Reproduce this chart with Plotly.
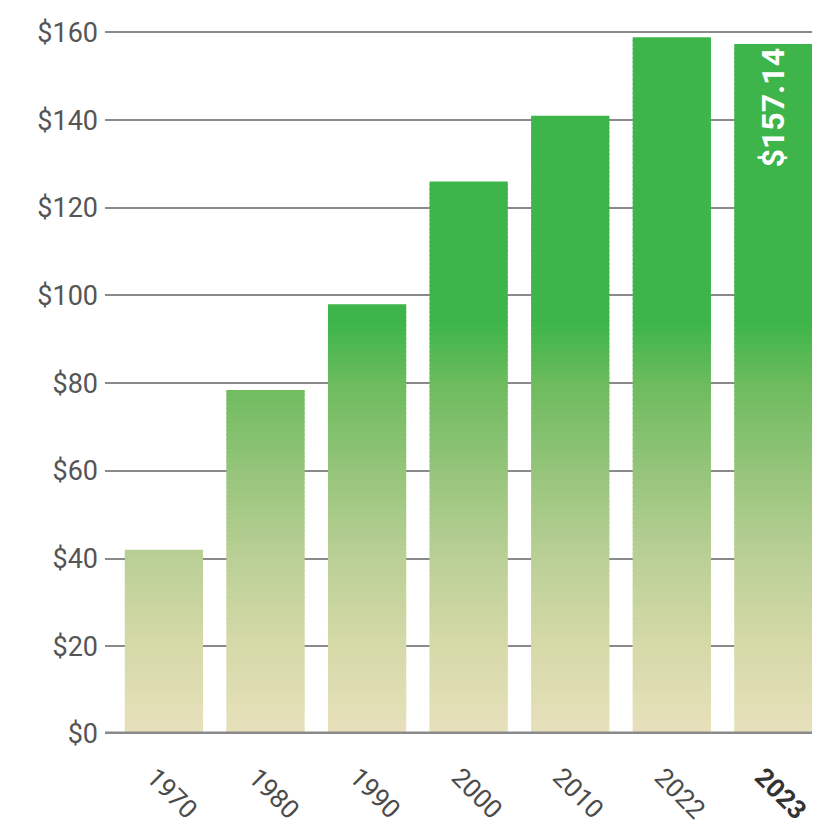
import plotly.graph_objects as go
import numpy as np

years = ["1970", "1980", "1990", "2000", "2010", "2022", "2023"]
tick_text = ["1970", "1980", "1990", "2000", "2010", "2022", "<b>2023</b>"]
values = [42.0, 78.3, 98.0, 126.0, 141.0, 158.9, 157.14]
label_text = ["", "", "", "", "", "", "$157.14"]
y_ticks = [0, 20, 40, 60, 80, 100, 120, 140, 160]
y_tick_text = ["$0", "$20", "$40", "$60", "$80", "$100", "$120", "$140", "$160"]

# gradient stops (value level -> rgb)
grad_levels = [0, 20, 40, 60, 80, 93, 200]
grad_colors = [(232, 225, 188), (214, 218, 169), (187, 208, 150), (150, 197, 123),
               (109, 188, 94), (63, 182, 75), (60, 181, 74)]

def color_at(v):
    r = np.interp(v, grad_levels, [c[0] for c in grad_colors])
    g = np.interp(v, grad_levels, [c[1] for c in grad_colors])
    b = np.interp(v, grad_levels, [c[2] for c in grad_colors])
    return f"rgb({int(r)},{int(g)},{int(b)})"

FONT = "Roboto, sans-serif"
step = 1.0
top = max(values)
levels = np.arange(0, top, step)
xpos = list(range(len(years)))

fig = go.Figure()
# gradient built from thin slices of each bar (ascending, slight overlap)
for lv in levels:
    bases, heights = [], []
    for v in values:
        if v > lv:
            hi = min(v, lv + step * 1.4)
            bases.append(lv)
            heights.append(hi - lv)
        else:
            bases.append(0)
            heights.append(None)
    fig.add_trace(go.Bar(
        x=xpos, y=heights, base=bases, width=0.77,
        marker=dict(color=color_at(lv + step / 2), line=dict(width=0)),
        hoverinfo="skip", showlegend=False,
    ))

fig.add_trace(go.Bar(
    x=xpos, y=values, width=0.77,
    marker=dict(color="rgba(0,0,0,0)", line=dict(width=0)),
    text=label_text, textposition="inside", insidetextanchor="end",
    textangle=-90, constraintext="none",
    textfont=dict(family=FONT, size=32, color="white", weight="bold"),
    showlegend=False,
))

annotations = []
for i, txt in enumerate(tick_text):
    annotations.append(dict(
        x=i, y=0, xref="x", yref="y", text=txt, showarrow=False,
        textangle=45, xanchor="center", yanchor="top", xshift=8, yshift=-25,
        font=dict(family=FONT, size=26,
                  color="#333333" if "<b>" in txt else "#4a4a4a"),
    ))

fig.update_layout(
    width=815, height=827,
    barmode="overlay",
    plot_bgcolor="white", paper_bgcolor="white",
    margin=dict(l=105, r=3, t=28, b=93),
    font=dict(family=FONT, color="#555555"),
    xaxis=dict(
        range=[-0.58, 6.38], showticklabels=False,
        showgrid=False, showline=False, zeroline=False, ticks="",
    ),
    yaxis=dict(
        range=[0, 161], tickmode="array", tickvals=y_ticks, ticktext=y_tick_text,
        tickfont=dict(size=27, color="#555555"),
        showgrid=True, gridcolor="#8a8a8a", gridwidth=2,
        zeroline=False, showline=False, ticks="", ticklabelstandoff=6,
    ),
    annotations=annotations,
    shapes=[dict(type="line", xref="paper", yref="y", x0=0, x1=1, y0=0, y1=0,
                 line=dict(color="#8a8a8a", width=5), layer="above")],
)

fig.write_html("out.html", config={"displayModeBar": False},
               post_script="document.body.style.margin='0px';")
